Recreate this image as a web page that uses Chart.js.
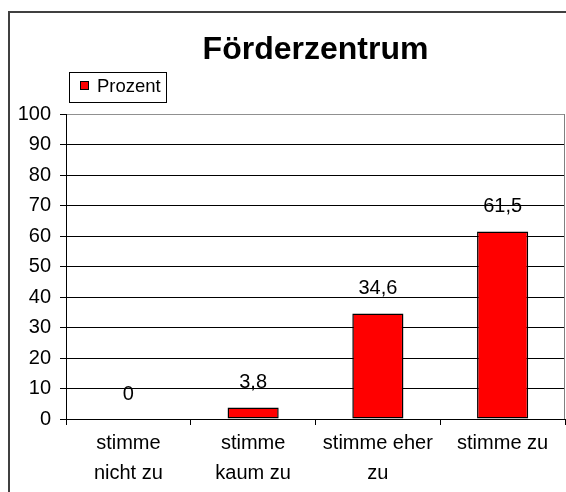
<!DOCTYPE html>
<html>
<head>
<meta charset="utf-8">
<script src="https://cdn.jsdelivr.net/npm/chart.js@4/dist/chart.umd.min.js"></script>
<style>
  html, body { margin: 0; padding: 0; background: #fff; }
  #wrap { width: 566px; height: 492px; }
</style>
</head>
<body>
<div id="wrap"><canvas id="myChart" width="566" height="492"></canvas></div>
<script>
const titleText = "Förderzentrum";
const seriesName = "Prozent";
const categories = [
  ["stimme", "nicht zu"],
  ["stimme", "kaum zu"],
  ["stimme eher", "zu"],
  ["stimme zu"]
];
const values = [0, 3.8, 34.6, 61.5];
const yTicks = [0, 10, 20, 30, 40, 50, 60, 70, 80, 90, 100];

const fontFamily = "'Liberation Sans', Arial, sans-serif";

// white background + outer frame
const frame = {
  id: "frame",
  beforeDraw: (chart) => {
    const c = chart.ctx;
    c.save();
    c.fillStyle = "#fff";
    c.fillRect(0, 0, chart.width, chart.height);
    c.strokeStyle = "#404040";
    c.lineWidth = 2;
    c.beginPath();
    c.moveTo(chart.width, 12);
    c.lineTo(9, 12);
    c.lineTo(9, chart.height);
    c.stroke();
    c.restore();
  },
  afterDraw: (chart) => {
    // plot area right border (gray)
    const a = chart.chartArea;
    const c = chart.ctx;
    c.save();
    c.strokeStyle = "#808080";
    c.lineWidth = 1;
    c.beginPath();
    c.moveTo(a.right - 0.5, a.top);
    c.lineTo(a.right - 0.5, a.bottom);
    c.stroke();
    c.restore();
  }
};

// title centred over the plot area
const plotTitle = {
  id: "plotTitle",
  afterDraw: (chart) => {
    const a = chart.chartArea;
    const c = chart.ctx;
    c.save();
    c.fillStyle = "#000";
    c.font = "bold 32px " + fontFamily;
    c.textAlign = "center";
    c.textBaseline = "alphabetic";
    c.fillText(titleText, (a.left + a.right) / 2, 59);
    c.restore();
  }
};

// legend with frame like the original
const boxLegend = {
  id: "boxLegend",
  afterDraw: (chart) => {
    const c = chart.ctx;
    const ds = chart.data.datasets[0];
    c.save();
    c.strokeStyle = "#000";
    c.lineWidth = 1;
    c.strokeRect(69.5, 72.5, 97, 30);
    c.fillStyle = ds.backgroundColor;
    c.fillRect(80, 81, 9, 9);
    c.strokeRect(80.5, 81.5, 8, 8);
    c.fillStyle = "#000";
    c.font = "18.5px " + fontFamily;
    c.textBaseline = "middle";
    c.textAlign = "left";
    c.fillText(ds.label, 97, 87);
    c.restore();
  }
};

// value labels above bars
const valueLabels = {
  id: "valueLabels",
  afterDatasetsDraw: (chart) => {
    const c = chart.ctx;
    const meta = chart.getDatasetMeta(0);
    c.save();
    c.fillStyle = "#000";
    c.font = "20px " + fontFamily;
    c.textAlign = "center";
    c.textBaseline = "middle";
    meta.data.forEach((bar, i) => {
      const txt = String(values[i]).replace(".", ",");
      c.fillText(txt, bar.x, bar.y - 25);
    });
    c.restore();
  }
};

const ctx = document.getElementById("myChart").getContext("2d");
const myChart = new Chart(ctx, {
  type: "bar",
  data: {
    labels: categories,
    datasets: [{
      label: seriesName,
      data: values,
      backgroundColor: "#ff0000",
      borderColor: "#000",
      borderWidth: 1.5,
      borderSkipped: false,
      categoryPercentage: 1,
      barPercentage: 0.41
    }]
  },
  options: {
    responsive: false,
    animation: false,
    layout: { padding: { left: 0, right: 1, top: 114, bottom: 0 } },
    plugins: {
      legend: { display: false },
      tooltip: { enabled: false },
      title: { display: false }
    },
    scales: {
      x: {
        offset: true,
        grid: {
          display: true,
          offset: true,
          drawOnChartArea: false,
          drawTicks: true,
          tickLength: 6,
          color: "#000"
        },
        border: { display: true, color: "#000", width: 1 },
        ticks: {
          color: "#000",
          maxRotation: 0,
          autoSkip: false,
          padding: 3,
          font: { family: fontFamily, size: 20, lineHeight: 1.5 }
        },
        afterFit: (scale) => { scale.height = 73; }
      },
      y: {
        min: 0,
        max: 100,
        afterBuildTicks: (scale) => { scale.ticks = yTicks.map(v => ({ value: v })); },
        grid: {
          color: (c) => (c.tick && c.tick.value === 100 ? "#909090" : "#000"),
          tickColor: "#000",
          tickLength: 6,
          lineWidth: 1
        },
        border: { display: true, color: "#000", width: 1 },
        ticks: {
          color: "#000",
          padding: 9,
          font: { family: fontFamily, size: 20 }
        },
        afterFit: (scale) => { scale.width = 66; }
      }
    }
  },
  plugins: [frame, plotTitle, boxLegend, valueLabels]
});
</script>
</body>
</html>
